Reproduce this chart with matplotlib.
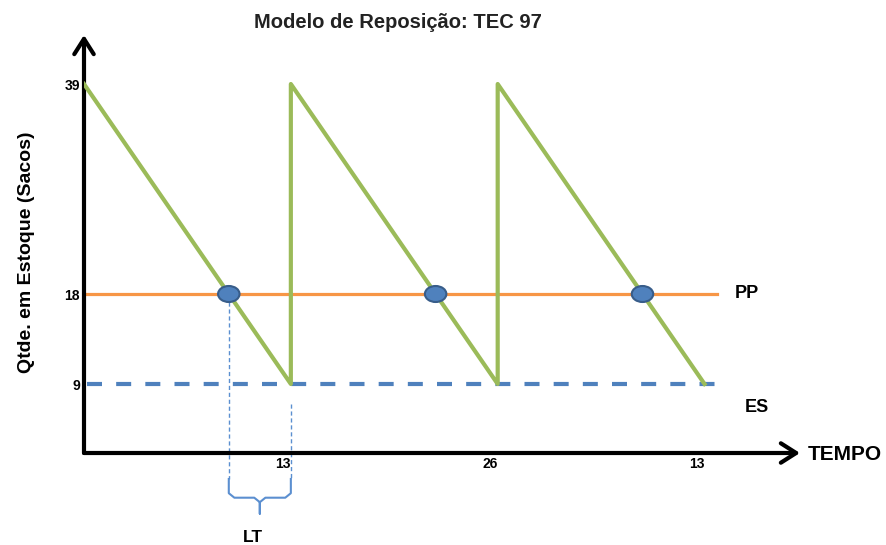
import matplotlib
matplotlib.use('Agg')
import matplotlib.pyplot as plt
from matplotlib.patches import Ellipse
import numpy as np

plt.rcParams['font.family'] = ['Liberation Sans', 'DejaVu Sans']

# estoque em dente de serra (tempo, quantidade)
tempo = [0, 13, 13, 26, 26, 39]
estoque = [39, 9, 39, 9, 39, 9]

PP = 18          # ponto de pedido
ES = 9           # estoque de segurança
FIM_LINHAS = 39.8

y_ticks = [9, 18, 39]
x_ticks = [13, 26, 39]
x_tick_labels = ['13', '26', '13']

VERDE = '#9BBB59'
LARANJA = '#F79646'
AZUL = '#4F81BD'
AZUL_ESC = '#385D8A'
AZUL_CLARO = '#5B8FD0'


def pontos_de_pedido():
    # instante em que cada rampa de consumo cruza o PP
    pts = []
    for k in range(0, len(tempo), 2):
        t0, t1 = tempo[k], tempo[k + 1]
        e0, e1 = estoque[k], estoque[k + 1]
        pts.append(t0 + (e0 - PP) / (e0 - e1) * (t1 - t0))
    return pts


fig = plt.figure(figsize=(8.87, 5.45), dpi=100)
W, H = 887.0, 545.0
ax = fig.add_axes([84 / W, 1 - 453 / H, (800 - 84) / W, (453 - 35) / H])
ax.set_xlim(0, 45)
ax.set_ylim(2.1, 43.9)
for s in ax.spines.values():
    s.set_visible(False)

# eixos com seta
seta = dict(arrowstyle='->,head_length=0.55,head_width=0.35', lw=3,
            color='black', shrinkA=0, shrinkB=0, mutation_scale=20)
ax.annotate('', xy=(0, 1), xytext=(0, 0), xycoords='axes fraction', arrowprops=seta)
ax.annotate('', xy=(1, 0), xytext=(0, 0), xycoords='axes fraction', arrowprops=seta)

ax.plot([0, FIM_LINHAS], [PP, PP], color=LARANJA, lw=2.3, zorder=2)
ax.plot([0.2, FIM_LINHAS], [ES, ES], color=AZUL, lw=3, dashes=(3.6, 3.4), zorder=2)
ax.plot(tempo, estoque, color=VERDE, lw=3, zorder=3)

rp = pontos_de_pedido()
for t in rp:
    ax.add_patch(Ellipse((t, PP), 1.35, 1.6, facecolor=AZUL, edgecolor=AZUL_ESC,
                         lw=1.5, zorder=4))

# lead time
y_chave = -0.5
ax.plot([rp[0], rp[0]], [PP - 0.8, y_chave], color=AZUL_CLARO, lw=1,
        dashes=(3, 2), clip_on=False, zorder=1)
ax.plot([tempo[1], tempo[1]], [7.05, y_chave], color=AZUL_CLARO, lw=1,
        dashes=(3, 2), clip_on=False, zorder=1)
xl, xr = rp[0], tempo[1]
xm = (xl + xr) / 2
yb, yt = -2.37, -3.97
dx, dy = 0.35, 0.45
cx = [xl, xl, xl + dx, xm - dx, xm, xm, xm, xm + dx, xr - dx, xr, xr]
cy = [y_chave, yb + dy, yb, yb, yb - dy, yt, yb - dy, yb, yb, yb + dy, y_chave]
ax.plot(cx, cy, color=AZUL_CLARO, lw=1.5, clip_on=False, solid_joinstyle='round')
ax.text(xm - 0.45, -6.3, 'LT', ha='center', va='center', fontsize=12.5,
        fontweight='bold', clip_on=False)

ax.text(40.9, PP, 'PP', ha='left', va='center', fontsize=13, fontweight='bold')
ax.text(41.5, 6.64, 'ES', ha='left', va='center', fontsize=13, fontweight='bold')

ax.set_yticks(y_ticks)
ax.set_yticklabels([str(v) for v in y_ticks])
ax.set_xticks(x_ticks)
ax.set_xticklabels(x_tick_labels)
for lab in ax.get_xticklabels():
    lab.set_ha('right')
ax.tick_params(length=0, labelsize=10, pad=3)
for lab in ax.get_xticklabels() + ax.get_yticklabels():
    lab.set_fontweight('bold')

fig.text(808 / W, 1 - 455 / H, 'TEMPO', ha='left', va='center', fontsize=15,
         fontweight='bold')
fig.text(27 / W, 1 - 252 / H, 'Qtde. em Estoque (Sacos)', rotation=90,
         ha='center', va='center', fontsize=14, fontweight='bold')
fig.text(398 / W, 1 - 22 / H, 'Modelo de Reposição: TEC 97', ha='center',
         va='center', fontsize=14.5, fontweight='bold', color='#222222')

fig.savefig('out.png', dpi=100)
